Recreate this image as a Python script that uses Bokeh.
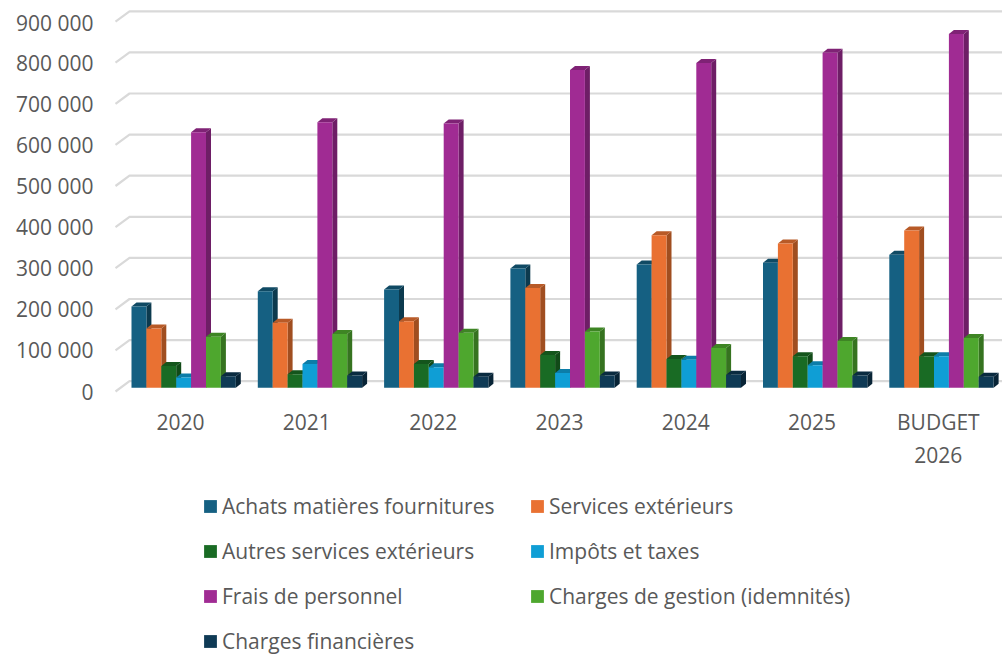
from bokeh.plotting import figure
from bokeh.layouts import column
from bokeh.models import Legend, LegendItem, FixedTicker
from bokeh.embed import file_html
from bokeh.resources import INLINE

categories = ["2020", "2021", "2022", "2023", "2024", "2025", "BUDGET\n2026"]
y_ticks = [0, 100000, 200000, 300000, 400000, 500000, 600000, 700000, 800000, 900000]
y_labels = ["0", "100 000", "200 000", "300 000", "400 000", "500 000", "600 000", "700 000", "800 000", "900 000"]

achats = [198000, 235000, 239000, 290000, 300000, 304000, 324000]
services = [144000, 158000, 162000, 243000, 371000, 351000, 383000]
autres = [53000, 33000, 58000, 80000, 70000, 77000, 77000]
impots = [25000, 58000, 50000, 36000, 68000, 55000, 77000]
frais = [622000, 646000, 643000, 773000, 790000, 815000, 861000]
gestion = [124000, 131000, 134000, 137000, 97000, 114000, 121000]
financieres = [28000, 30000, 27000, 30000, 32000, 30000, 27000]

series = [
    ("Achats matières fournitures", achats, "#156082", "#104A64", "#0C3A4E"),
    ("Services extérieurs", services, "#E97132", "#B85A27", "#A04E20"),
    ("Autres services extérieurs", autres, "#196B24", "#14551C", "#114A18"),
    ("Impôts et taxes", impots, "#0F9ED5", "#0C7DA8", "#0A6E94"),
    ("Frais de personnel", frais, "#A02B93", "#7F2275", "#6E1E66"),
    ("Charges de gestion (idemnités)", gestion, "#4EA72E", "#3E8524", "#367320"),
    ("Charges financières", financieres, "#0F3A55", "#0A2B40", "#082436"),
]

PX_X = 126.3          # pixels per category
PX_Y = 41.1 / 100000  # pixels per value unit
BAR_W = 14.9 / PX_X
BAR_START = 16.0 / PX_X   # first bar's left edge from the axis plane
DX = 5.0 / PX_X       # bar depth
DY = 4.0 / PX_Y
BASE = 3.7 / PX_Y     # bar front plane above the wall front
WALL_X = 14.0 / PX_X  # wall depth
WALL_Y = 10.3 / PX_Y

FW, FH = 994, 470
LEFT, TOP, BOTTOM = 105, 0, 470 - 385
frame_w = FW - LEFT
frame_h = FH - TOP - BOTTOM
y0 = -2 / PX_Y
x0 = -2 / PX_X

p = figure(width=FW, height=FH, output_backend="svg", toolbar_location=None,
           x_range=(x0, x0 + frame_w / PX_X), y_range=(y0, y0 + frame_h / PX_Y),
           min_border_left=LEFT, min_border_right=0, min_border_top=TOP, min_border_bottom=BOTTOM,
           outline_line_color=None, background_fill_color=None, border_fill_color=None,
           margin=(8, 0, 0, 8))
p.xgrid.visible = False
p.ygrid.visible = False

FONT = "Open Sans"
TXT = "#595959"
p.yaxis.ticker = FixedTicker(ticks=y_ticks)
p.yaxis.major_label_overrides = dict(zip(y_ticks, y_labels))
p.xaxis.ticker = FixedTicker(ticks=[i + 0.515 for i in range(len(categories))])
p.xaxis.major_label_overrides = {i + 0.515: c for i, c in enumerate(categories)}
for ax in (p.xaxis, p.yaxis):
    ax.axis_line_color = None
    ax.major_tick_line_color = None
    ax.minor_tick_line_color = None
    ax.major_label_text_font = FONT
    ax.major_label_text_font_size = "21px"
    ax.major_label_text_color = TXT
p.yaxis.major_label_standoff = 14
p.xaxis.major_label_standoff = 8

right_end = x0 + frame_w / PX_X
p.multi_line(xs=[[0, WALL_X, right_end] for _ in y_ticks],
             ys=[[t, t + WALL_Y, t + WALL_Y] for t in y_ticks],
             line_color="#D9D9D9", line_width=2.2)

for k, (name, vals, front, top, side) in enumerate(series):
    lefts = [i + BAR_START + k * BAR_W for i in range(len(vals))]
    rights = [l + BAR_W for l in lefts]
    tops = [BASE + v for v in vals]
    p.patches(xs=[[r, r + DX, r + DX, r] for r in rights],
              ys=[[t, t + DY, BASE + DY, BASE] for t in tops],
              fill_color=side, line_color=None)
    p.patches(xs=[[l, l + DX, r + DX, r] for l, r in zip(lefts, rights)],
              ys=[[t, t + DY, t + DY, t] for t in tops],
              fill_color=top, line_color=None)
    p.quad(left=lefts, right=rights, bottom=[BASE] * len(vals), top=tops,
           fill_color=front, line_color=None)

# legend strip under the plot
LH = 177
q = figure(width=FW, height=LH, output_backend="svg", toolbar_location=None,
           x_range=(0, FW), y_range=(0, LH), x_axis_location=None, y_axis_location=None,
           min_border=0, outline_line_color=None, background_fill_color=None,
           border_fill_color=None, margin=(0, 0, 0, 8))
q.xgrid.visible = False
q.ygrid.visible = False
items = []
for name, vals, front, top, side in series:
    r = q.quad(left=[-20], right=[-10], bottom=[-20], top=[-10], fill_color=front, line_color=None)
    items.append(LegendItem(label=name, renderers=[r]))
legend = Legend(items=items, ncols=2, orientation="horizontal", location=(89, 0),
                border_line_color=None, background_fill_alpha=0, margin=0, padding=0,
                glyph_width=16, glyph_height=16, label_standoff=4, label_height=20,
                spacing=17, label_width=290,
                label_text_font=FONT, label_text_font_size="21px", label_text_color=TXT)
q.add_layout(legend, "center")

open("out.html", "w").write(file_html(column(p, q, spacing=0), INLINE))
